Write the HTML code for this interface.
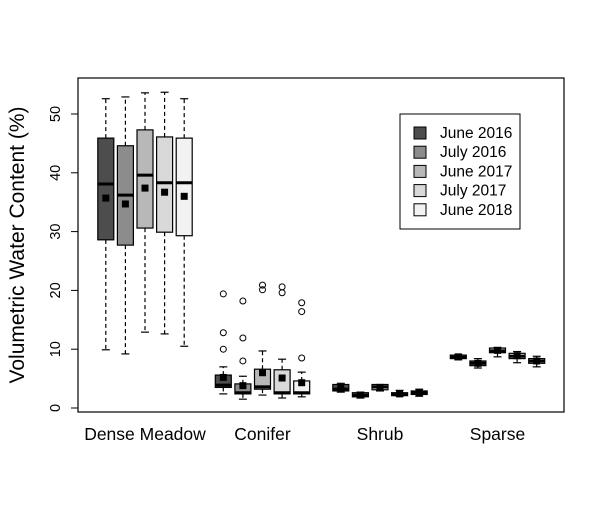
<!DOCTYPE html>
<html><head><meta charset="utf-8"><style>body{margin:0;background:#fff}svg{display:block;font-family:"Liberation Sans",sans-serif}</style></head>
<body>
<svg id="chart" width="605" height="510" viewBox="0 0 605 510" xmlns="http://www.w3.org/2000/svg">
<rect x="0" y="0" width="605" height="510" fill="#fff"/>
<rect x="78" y="78" width="486" height="334" fill="none" stroke="#000" stroke-width="1.2"/>
<g id="marks"></g>
<g id="axis"></g>
<text x="24" y="245" font-size="21" text-anchor="middle" transform="rotate(-90 24 245)">Volumetric Water Content (%)</text>
<g>
<rect x="400" y="114" width="120" height="115" fill="#fff" stroke="#000" stroke-width="1"/>
<g id="legend-items"></g>
</g>
</svg>
<script>
const groups = ["Dense Meadow","Conifer","Shrub","Sparse"];
const series = ["June 2016","July 2016","June 2017","July 2017","June 2018"];
const fills = ["#4d4d4d","#8c8c8c","#b8b8b8","#d9d9d9","#f2f2f2"];
const yTicks = [0,10,20,30,40,50];
// [whiskerLow, q1, median, q3, whiskerHigh, mean] per group per series
const denseMeadow = [[9.9,28.6,38.1,45.9,52.6,35.7],[9.2,27.7,36.2,44.6,52.9,34.7],[12.9,30.6,39.6,47.3,53.6,37.4],[12.6,29.9,38.3,46.1,53.7,36.7],[10.5,29.3,38.3,45.9,52.6,36.0]];
const conifer = [[2.4,3.5,3.9,5.6,7.0,5.2],[1.5,2.4,2.6,4.1,5.4,3.8],[2.2,3.2,3.6,6.6,9.7,6.0],[1.7,2.4,2.6,6.5,8.3,5.1],[1.9,2.4,2.6,4.6,6.1,4.3]];
const shrub = [[2.7,2.9,3.2,4.0,4.2,3.4],[1.7,1.9,2.2,2.6,2.7,2.2],[2.9,3.1,3.6,4.0,4.0,3.4],[2.0,2.1,2.3,2.6,3.0,2.4],[2.0,2.3,2.6,2.9,3.2,2.6]];
const sparse = [[8.2,8.4,8.6,9.0,9.1,8.7],[6.8,7.2,7.6,8.0,8.4,7.6],[8.7,9.4,9.7,10.2,10.3,9.8],[7.7,8.4,8.8,9.3,9.6,8.9],[7.0,7.6,8.0,8.4,8.8,8.0]];
const coniferOutliers = [[19.4,12.8,10.0],[18.2,11.9,8.0],[20.9,20.1],[20.6,19.6],[17.9,16.4,8.5]];
const allStats = [denseMeadow, conifer, shrub, sparse];
const allOutliers = [[[],[],[],[],[]], coniferOutliers, [[],[],[],[],[]], [[],[],[],[],[]]];

const NS="http://www.w3.org/2000/svg";
function y(v){return 408-5.88*v;}
function xGroup(g){return 145+g*117.5;}
function xBox(g,s){return xGroup(g)+(s-2)*19.6;}
function mk(tag,attrs,parent){const e=document.createElementNS(NS,tag);for(const k in attrs)e.setAttribute(k,attrs[k]);parent.appendChild(e);return e;}
const marks=document.getElementById('marks'), axis=document.getElementById('axis');
const hw=8;
allStats.forEach((grp,g)=>{
  grp.forEach((st,s)=>{
    const cx=xBox(g,s);
    const gEl=mk('g',{},marks);
    
    
    const [wl,q1,md,q3,wh,mn]=st;
    mk('line',{x1:cx,x2:cx,y1:y(q3),y2:y(wh),stroke:'#000','stroke-dasharray':'4,3','stroke-width':1.2},gEl);
    mk('line',{x1:cx,x2:cx,y1:y(q1),y2:y(wl),stroke:'#000','stroke-dasharray':'4,3','stroke-width':1.2},gEl);
    mk('line',{x1:cx-4,x2:cx+4,y1:y(wh),y2:y(wh),stroke:'#000','stroke-width':1.2},gEl);
    mk('line',{x1:cx-4,x2:cx+4,y1:y(wl),y2:y(wl),stroke:'#000','stroke-width':1.2},gEl);
    mk('rect',{x:cx-hw,y:y(q3),width:2*hw,height:Math.max(0.5,y(q1)-y(q3)),fill:fills[s],stroke:'#000','stroke-width':1.2},gEl);
    mk('line',{x1:cx-hw,x2:cx+hw,y1:y(md),y2:y(md),stroke:'#000','stroke-width':3},gEl);
    mk('rect',{x:cx-3.5,y:y(mn)-3.5,width:7,height:7,fill:'#000'},gEl);
    allOutliers[g][s].forEach(o=>{
      const c=mk('circle',{cx:cx,cy:y(o),r:3,fill:'none',stroke:'#000','stroke-width':1},gEl);
      
      
    });
  });
  const t=mk('text',{x:xGroup(g),y:440,'font-size':17.5,'text-anchor':'middle'},axis);
  t.textContent=groups[g];
  
  
});
mk('line',{x1:78,x2:78,y1:y(0),y2:y(50),stroke:'#000','stroke-width':1},axis);
yTicks.forEach(v=>{
  const l=mk('line',{x1:71,x2:78,y1:y(v),y2:y(v),stroke:'#000','stroke-width':1},axis);
  
  
  const t=mk('text',{x:60,y:y(v),'font-size':14.5,'text-anchor':'middle',transform:'rotate(-90 60 '+y(v)+')'},axis);
  t.textContent=v;
  
  
});
const li=document.getElementById('legend-items');
series.forEach((s,i)=>{
  const yy=133+i*19.2;
  const r=mk('rect',{x:414,y:yy-6,width:12,height:12,fill:fills[i],stroke:'#000','stroke-width':1},li);
  
  
  const t=mk('text',{x:440,y:yy+5,'font-size':15.5},li);
  t.textContent=s;
  
  
});
</script>
</body></html>
